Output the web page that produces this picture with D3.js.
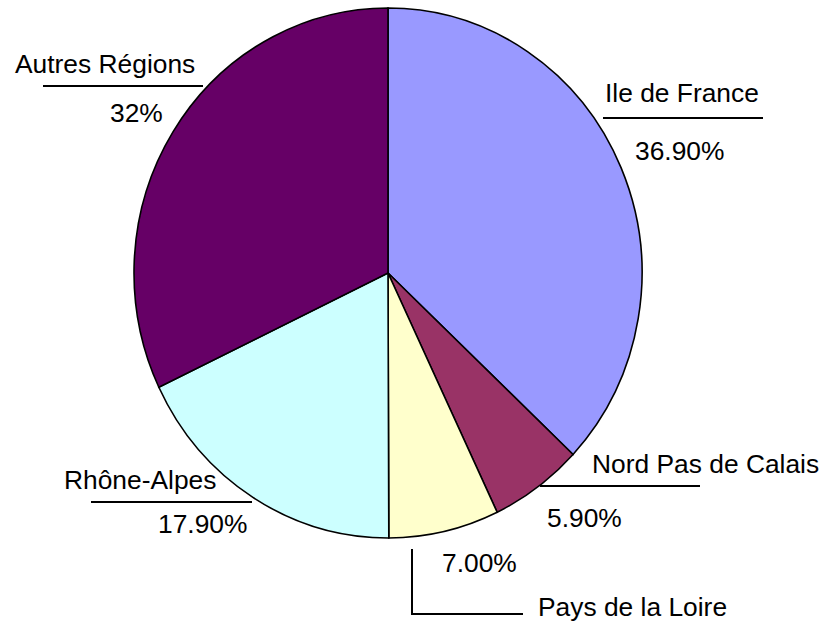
<!DOCTYPE html>
<meta charset="utf-8">
<style>
 body { margin: 0; background: #fff; }
 .slice { stroke: #000; stroke-width: 1.6px; vector-effect: non-scaling-stroke; }
 .lbl { font-family: "Liberation Sans", Arial, sans-serif; font-size: 25px; fill: #000; }
 .leader { fill: none; stroke: #000; stroke-width: 2px; }
</style>
<svg class="chart"></svg>
<script src="https://cdn.jsdelivr.net/npm/d3@7"></script>
<script>

 var regions = ["Ile de France", "Nord Pas de Calais", "Pays de la Loire", "Rhône-Alpes", "Autres Régions"];
 var shares = [36.9, 5.9, 7.0, 17.9, 32];
 var shareText = ["36.90%", "5.90%", "7.00%", "17.90%", "32%"];
 var colors = ["#9999ff", "#993366", "#ffffcc", "#ccffff", "#660066"];

 // where each label sits (name, rule, percentage)
 var labelPos = [
     {nx: 605, ny: 102, line: [[603, 118], [763, 118]], px: 635, py: 160},
     {nx: 592, ny: 473, line: [[540, 486], [700, 486]], px: 547, py: 527},
     {nx: 538, ny: 616, line: [[412, 549], [412, 614], [523, 614]], px: 442, py: 572},
     {nx: 64, ny: 489, line: [[91, 502], [252, 502]], px: 158, py: 533},
     {nx: 15, ny: 73, line: [[43, 86], [203, 86]], px: 110, py: 122}
 ];

 var textStretch = 1.055; // the original font is drawn a bit wide

 var svg = d3.select(".chart").attr("width", 824).attr("height", 624);

 var cx = 388, cy = 273, ry = 265, rx = 254;

 // leader lines go under the pie
 var lineGen = d3.line();
 svg.append("g").selectAll("path").data(labelPos).enter()
    .append("path").attr("class", "leader")
    .attr("d", function(d) { return lineGen(d.line); });

 var pie = d3.pie().sort(null).value(function(d) { return d; });
 var arc = d3.arc().innerRadius(0).outerRadius(ry);

 var g = svg.append("g")
            .attr("transform", "translate(" + cx + "," + cy + ") scale(" + (rx / ry) + ",1)");

 g.selectAll(".slice").data(pie(shares)).enter()
  .append("path").attr("class", "slice")
  .attr("fill", function(d, i) { return colors[i]; })
  .attr("d", arc);

 var labels = svg.append("g").selectAll("g").data(labelPos).enter().append("g");

 labels.append("text").attr("class", "lbl")
       .attr("transform", function(d) { return "translate(" + d.nx + "," + d.ny + ") scale(" + textStretch + ",1)"; })
       .text(function(d, i) { return regions[i]; });

 labels.append("text").attr("class", "lbl")
       .attr("transform", function(d) { return "translate(" + d.px + "," + d.py + ") scale(" + textStretch + ",1)"; })
       .text(function(d, i) { return shareText[i]; });

</script>
